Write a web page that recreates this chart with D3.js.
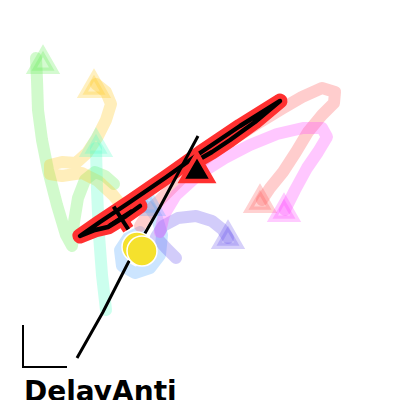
<!DOCTYPE html>
<html><head><meta charset="utf-8">
<script src="https://cdn.jsdelivr.net/npm/d3@7"></script>
<style>html,body{margin:0;padding:0;background:#fff;}svg{display:block;}</style>
</head><body>
<script>
// ---- data (chart units: x right, y up) ----
const seriesNames = ["green","yellow","teal","blue","purple","pink","magenta"];
const seriesColors = ["#66ee55","#ffc81e","#55ffc8","#55aaff","#6a55ee","#ff5a5a","#ff44ff"];
const greenPath = [[36,342],[37,320],[38,290],[42,260],[48,230],[57,195],[66,165],[72,154],[74,178],[78,202],[85,220],[95,228],[105,224],[114,216]];
const yellowPath = [[96,316],[106,308],[111,296],[106,280],[97,262],[87,247],[76,237],[62,238],[50,235],[50,226],[62,224],[82,227],[98,219],[113,205],[122,194]];
const tealPath = [[96,252],[97,210],[99,165],[102,125],[106,90]];
const bluePath = [[149,193],[157,182],[162,165],[160,145],[150,132],[135,127],[122,134],[120,150],[128,162],[140,168]];
const purplePath = [[176,142],[166,152],[156,163],[163,174],[178,182],[196,184],[212,179],[222,171],[228,162]];
const pinkPath = [[140,174],[150,190],[165,205],[185,225],[210,245],[235,262],[260,278],[283,292],[302,303],[322,312],[335,308],[334,297],[322,285],[308,268],[296,248],[283,228],[270,212],[262,200]];
const magentaPath = [[160,168],[164,185],[176,205],[198,225],[225,242],[250,255],[277,266],[303,272],[322,272],[327,263],[318,248],[307,232],[295,210],[285,190]];
const endMarkers = [[43,336],[94,312],[96,253],[149,194],[228,161],[260,197],[284,188]];

const mainPath = [[140,194],[126,184],[108,173],[95,170],[80,164],[100,178],[130,198],[165,222],[200,247],[240,274],[280,299],[255,278],[230,260],[212,248],[198,240]];
const mainEnd = [197,228];
const mainStart = [121,182];
const guideLine = [[77,42],[90,65],[103,88],[128,137],[160,193],[198,264]];
const targetCircles = [[137,153],[142,149]];
const scaleBar = [[23,75],[23,33],[67,33]];
const titleText = "DelayAnti";

// ---- drawing ----
const W = 400, H = 400;
const x = d3.scaleLinear().domain([0,400]).range([0,W]);
const y = d3.scaleLinear().domain([0,400]).range([H,0]);
const svg = d3.select("body").append("svg").attr("width",W).attr("height",H);
const line = d3.line().x(d => x(d[0])).y(d => y(d[1])).curve(d3.curveLinear);

const paths = [greenPath,yellowPath,tealPath,bluePath,purplePath,pinkPath,magentaPath];
const gS = svg.append("g");
paths.forEach((p,i) => {
  gS.append("path").attr("d", line(p)).attr("fill","none")
    .attr("stroke", seriesColors[i]).attr("stroke-opacity",0.3)
    .attr("stroke-width",12).attr("stroke-linecap","round").attr("stroke-linejoin","round");
});
const tri = d3.symbol(d3.symbolTriangle, 230);
endMarkers.forEach((m,i) => {
  gS.append("path").attr("d", tri()).attr("transform",`translate(${x(m[0])},${y(m[1])})`)
    .attr("fill", seriesColors[i]).attr("fill-opacity",0.28)
    .attr("stroke", seriesColors[i]).attr("stroke-opacity",0.28).attr("stroke-width",6.5);
});

// highlighted trajectory
const halo = "#ff3030";
svg.append("path").attr("d", line(mainPath)).attr("fill","none").attr("stroke",halo)
  .attr("stroke-width",15).attr("stroke-linecap","round").attr("stroke-linejoin","round");
const plusType = {draw(ctx, size){ const r = Math.sqrt(size)/2; ctx.moveTo(-r,0); ctx.lineTo(r,0); ctx.moveTo(0,-r); ctx.lineTo(0,r);} };
const plus = d3.symbol(plusType, 27*27);
svg.append("path").attr("d", plus()).attr("transform",`translate(${x(mainStart[0])},${y(mainStart[1])}) rotate(-33)`)
  .attr("fill","none").attr("stroke",halo).attr("stroke-width",12);
svg.append("path").attr("d", line(mainPath)).attr("fill","none").attr("stroke","#000")
  .attr("stroke-width",4.5).attr("stroke-linecap","round").attr("stroke-linejoin","round");
svg.append("path").attr("d", plus()).attr("transform",`translate(${x(mainStart[0])},${y(mainStart[1])}) rotate(-33)`)
  .attr("fill","none").attr("stroke","#000").attr("stroke-width",4);
svg.append("path").attr("d", d3.symbol(d3.symbolTriangle, 420)()).attr("transform",`translate(${x(mainEnd[0])},${y(mainEnd[1])})`)
  .attr("fill","#000").attr("stroke",halo).attr("stroke-width",4.5);

// guide line
svg.append("path").attr("d", line(guideLine)).attr("fill","none").attr("stroke","#000").attr("stroke-width",3);

// circles
svg.selectAll("circle.t").data(targetCircles).join("circle").attr("class","t")
  .attr("cx", d => x(d[0])).attr("cy", d => y(d[1])).attr("r",15)
  .attr("fill","#f5e12d").attr("stroke","#fff").attr("stroke-width",1.5);

// scale bar
svg.append("path").attr("d", line(scaleBar)).attr("fill","none").attr("stroke","#000").attr("stroke-width",2);

svg.append("text").attr("x",24).attr("y",401).text(titleText)
  .attr("font-family","DejaVu Sans").attr("font-weight","bold").attr("font-size",28).attr("fill","#000");
</script>
</body></html>
